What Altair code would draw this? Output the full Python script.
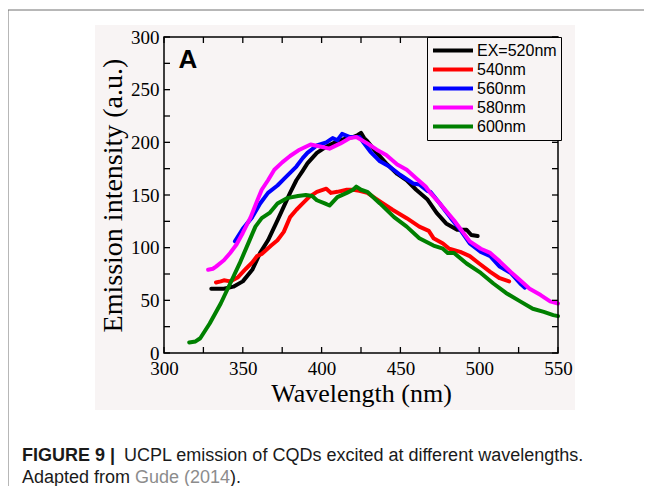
import altair as alt
import pandas as pd

# ---------------- data ----------------
series_names = ["EX=520nm", "540nm", "560nm", "580nm", "600nm"]
series_colors = ["#000000", "#ff0000", "#0000ff", "#ff00ff", "#008000"]

wl_520 = [330, 334, 338, 344, 350, 356, 361, 366, 372, 376, 380, 384, 388, 391, 397, 403, 410, 416, 420, 423, 425, 427, 429, 435, 441, 448, 454, 460, 467, 473, 479, 486, 492, 495, 499]
in_520 = [61, 61, 61, 63, 68, 79, 95, 107, 126, 139, 152, 164, 173, 180, 190, 196, 201, 204, 205, 207, 209, 204, 201, 190, 180, 170, 164, 155, 146, 133, 123, 117, 117, 112, 111]

wl_540 = [333, 336, 338, 342, 347, 352, 356, 359, 362, 365, 368, 372, 376, 380, 384, 388, 392, 397, 403, 406, 410, 416, 420, 424, 429, 437, 445, 454, 462, 468, 471, 477, 481, 488, 494, 500, 507, 513, 519]
in_540 = [67, 68, 69, 68, 72, 80, 86, 92, 94, 98, 102, 107, 115, 129, 136, 142, 148, 153, 156, 152, 153, 155, 155, 154, 152, 144, 136, 128, 120, 116, 109, 104, 99, 96, 92, 85, 77, 71, 68]

wl_560 = [345, 350, 356, 361, 366, 372, 376, 380, 384, 388, 391, 397, 403, 407, 410, 413, 418, 424, 431, 437, 443, 450, 458, 462, 467, 469, 475, 482, 488, 494, 501, 507, 513, 520, 526, 529]
in_560 = [106, 118, 129, 142, 152, 159, 165, 171, 177, 185, 190, 197, 200, 204, 202, 208, 205, 205, 191, 182, 177, 169, 161, 160, 154, 153, 142, 128, 117, 104, 96, 92, 82, 76, 66, 62]

wl_580 = [328, 331, 333, 338, 342, 346, 350, 355, 359, 362, 366, 370, 375, 380, 386, 393, 399, 405, 412, 418, 422, 429, 435, 441, 448, 454, 460, 466, 469, 475, 484, 490, 494, 501, 507, 513, 520, 526, 532, 539, 545, 550]
in_580 = [79, 80, 82, 88, 95, 103, 114, 129, 144, 155, 164, 174, 181, 187, 193, 198, 196, 194, 199, 204, 205, 199, 193, 188, 179, 174, 166, 158, 152, 142, 126, 114, 106, 99, 95, 87, 77, 69, 61, 55, 49, 47]

wl_600 = [316, 320, 323, 329, 336, 342, 348, 354, 358, 362, 367, 372, 378, 385, 390, 394, 397, 402, 405, 410, 416, 420, 422, 425, 429, 437, 446, 454, 462, 471, 477, 480, 484, 492, 501, 509, 517, 526, 534, 541, 547, 550]
in_600 = [10, 11, 14, 28, 47, 66, 85, 106, 120, 128, 133, 142, 147, 149, 150, 149, 145, 142, 140, 148, 152, 155, 158, 155, 153, 142, 129, 120, 109, 102, 99, 95, 95, 85, 76, 66, 57, 49, 42, 39, 36, 35]

x_ticks = [300, 325, 350, 375, 400, 425, 450, 475, 500, 525, 550]
y_ticks = [0, 25, 50, 75, 100, 125, 150, 175, 200, 225, 250, 275, 300]
x_labels = [300, 350, 400, 450, 500, 550]
y_labels = [0, 50, 100, 150, 200, 250, 300]

# ---------------- build table ----------------
rows = []
for name, wls, ints in zip(series_names,
                           [wl_520, wl_540, wl_560, wl_580, wl_600],
                           [in_520, in_540, in_560, in_580, in_600]):
    for i, (w, v) in enumerate(zip(wls, ints)):
        rows.append({"series": name, "wl": w, "inten": v, "idx": i})
df = pd.DataFrame(rows)

W, H = 394, 316
BG = "#f8f4f4"
SERIF = "Liberation Serif"
SANS = "Liberation Sans"

xs = alt.Scale(domain=[300, 550], nice=False, zero=False)
ys = alt.Scale(domain=[0, 300], nice=False, zero=False)
x_axis = alt.Axis(values=x_labels, ticks=False, domain=False, grid=False, zindex=2,
                  labelFont=SERIF, labelFontSize=19, labelColor="black",
                  labelPadding=6, labelFlush=False,
                  titleFont=SERIF, titleFontSize=26, titleFontWeight="normal",
                  titleColor="black", titlePadding=2)
y_axis = alt.Axis(values=y_labels, ticks=False, domain=False, grid=False, zindex=2,
                  labelFont=SERIF, labelFontSize=19, labelColor="black",
                  labelPadding=5, labelFlush=False,
                  titleFont=SERIF, titleFontSize=28, titleFontWeight="normal",
                  titleColor="black", titlePadding=3)
X_TITLE = "Wavelength (nm)"
Y_TITLE = "Emission intensity (a.u.)"

one = pd.DataFrame({"k": [0]})

bg = alt.Chart(one).mark_rect(color=BG).encode(
    x=alt.value(-69), x2=alt.value(411), y=alt.value(-12), y2=alt.value(373))

box = alt.Chart(one).mark_rect(fillOpacity=0, stroke="black", strokeWidth=1.5).encode(
    x=alt.value(0), x2=alt.value(W), y=alt.value(0), y2=alt.value(H))

frame_top = alt.Chart(one).mark_rule(color="#707070", strokeWidth=1).encode(
    x=alt.value(-156), x2=alt.value(490), y=alt.value(-27))
frame_left = alt.Chart(one).mark_rule(color="#707070", strokeWidth=1).encode(
    x=alt.value(-156), y=alt.value(-27), y2=alt.value(460))

lines = alt.Chart(df).mark_line(strokeWidth=4, strokeJoin="round", strokeCap="round").encode(
    x=alt.X("wl:Q", scale=xs, title=X_TITLE, axis=x_axis),
    y=alt.Y("inten:Q", scale=ys, title=Y_TITLE, axis=y_axis),
    color=alt.Color("series:N",
                    scale=alt.Scale(domain=series_names, range=series_colors),
                    legend=alt.Legend(title=None, orient="none", legendX=263, legendY=0,
                                      symbolType="stroke", symbolSize=1600,
                                      symbolStrokeWidth=4, labelFont=SANS,
                                      labelFontSize=16, labelColor="black",
                                      labelOffset=2, padding=4, rowPadding=0,
                                      clipHeight=19, strokeColor="black",
                                      fillColor=BG)),
    order="idx:Q",
)

tx = pd.DataFrame({"wl": x_ticks})
ty = pd.DataFrame({"inten": y_ticks})
tick_b = alt.Chart(tx).mark_rule(color="black", strokeWidth=1.3).encode(
    x=alt.X("wl:Q", scale=xs, title=X_TITLE, axis=x_axis), y=alt.value(H), y2=alt.value(H - 6))
tick_t = alt.Chart(tx).mark_rule(color="black", strokeWidth=1.3).encode(
    x=alt.X("wl:Q", scale=xs, title=X_TITLE, axis=x_axis), y=alt.value(0), y2=alt.value(6))
tick_l = alt.Chart(ty).mark_rule(color="black", strokeWidth=1.3).encode(
    y=alt.Y("inten:Q", scale=ys, title=Y_TITLE, axis=y_axis), x=alt.value(0), x2=alt.value(6))
tick_r = alt.Chart(ty).mark_rule(color="black", strokeWidth=1.3).encode(
    y=alt.Y("inten:Q", scale=ys, title=Y_TITLE, axis=y_axis), x=alt.value(W), x2=alt.value(W - 6))

panel = alt.Chart(one).mark_text(text="A", font=SANS, fontWeight="bold", fontSize=26,
                                 align="center", baseline="alphabetic", color="black").encode(
    x=alt.value(24), y=alt.value(31))

cap1a = alt.Chart(one).mark_text(text="FIGURE 9 |", font=SANS, fontWeight="bold", fontSize=18,
                                 align="left", baseline="alphabetic", color="#1a1a1a").encode(
    x=alt.value(-142), y=alt.value(424))
cap1b = alt.Chart(one).mark_text(text="UCPL emission of CQDs excited at different wavelengths.",
                                 font=SANS, fontSize=18, align="left", baseline="alphabetic",
                                 color="#1a1a1a").encode(x=alt.value(-40), y=alt.value(424))
cap2a = alt.Chart(one).mark_text(text="Adapted from", font=SANS, fontSize=18, align="left",
                                 baseline="alphabetic", color="#1a1a1a").encode(
    x=alt.value(-142), y=alt.value(446))
cap2b = alt.Chart(one).mark_text(text="Gude (2014", font=SANS, fontSize=18, align="left",
                                 baseline="alphabetic", color="#8c8c8c").encode(
    x=alt.value(-29), y=alt.value(446))
cap2c = alt.Chart(one).mark_text(text=").", font=SANS, fontSize=18, align="left",
                                 baseline="alphabetic", color="#1a1a1a").encode(
    x=alt.value(66), y=alt.value(446))

chart = alt.layer(
    bg, frame_top, frame_left, lines, tick_b, tick_t, tick_l, tick_r, box, panel,
    cap1a, cap1b, cap2a, cap2b, cap2c
).properties(
    width=W, height=H,
    autosize=alt.AutoSizeParams(type="none"),
    padding={"left": 156, "top": 29, "right": 86, "bottom": 133},
    background="white",
).configure_view(stroke=None, fill=BG)

chart.save("out.html", embed_options={"renderer": "svg", "actions": False})
